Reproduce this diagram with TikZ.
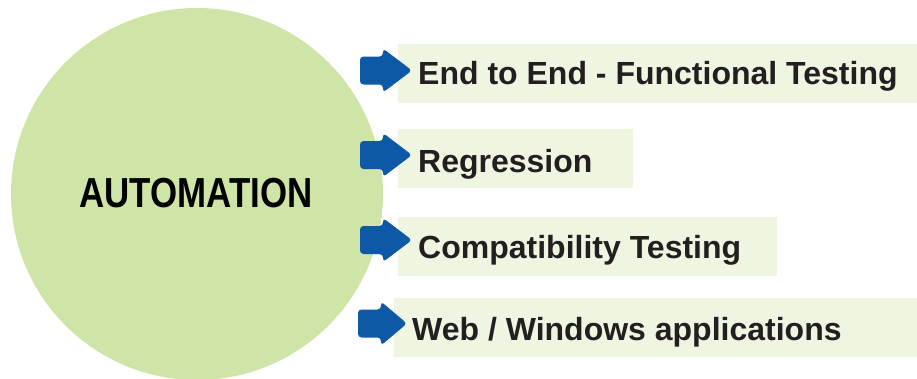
\documentclass[tikz,border=0pt]{standalone}
\usepackage{fontspec}
\setmainfont{Liberation Sans}
\definecolor{circlegreen}{RGB}{207,228,167}
\definecolor{boxgreen}{RGB}{238,245,225}
\definecolor{arrowblue}{RGB}{14,89,166}
\definecolor{textdark}{RGB}{35,31,32}
\begin{document}
\begin{tikzpicture}[x=1pt,y=1pt,
  itembox/.style={fill=boxgreen, draw=none, anchor=north west, inner sep=0pt},
  itemtext/.style={anchor=base west, inner sep=0pt, text=textdark, font=\fontsize{32}{36}\selectfont\bfseries},
  arrowshape/.style={fill=arrowblue, rounded corners=3.5pt}]
\useasboundingbox (0,0) rectangle (917,-378);
% central circle
\node[circle, fill=circlegreen, minimum size=372pt, inner sep=0pt] (hub) at (197,-194) {};
\node[inner sep=0pt, font=\fontsize{42}{48}\selectfont\bfseries] (hubtext) at (196,-193) {\scalebox{0.83}[1]{AUTOMATION}};
% boxes
\node[itembox, minimum width=519pt, minimum height=59pt] (b1) at (398,-44) {};
\node[itembox, minimum width=235pt, minimum height=59pt] (b2) at (398,-129) {};
\node[itembox, minimum width=379pt, minimum height=59pt] (b3) at (398,-217) {};
\node[itembox, minimum width=523pt, minimum height=59pt] (b4) at (394,-298) {};
% texts
\node[itemtext] (t1) at (418,-84) {End to End - Functional Testing};
\node[itemtext] (t2) at (418,-172) {Regression};
\node[itemtext] (t3) at (418,-258) {Compatibility Testing};
\node[itemtext] (t4) at (412,-340) {Web / Windows applications};
% arrows
\foreach \L/\T/\c [count=\i] in {360/412/-70.5, 360/412/-155, 360/412/-240, 358/407/-323.5}{
  \fill[arrowshape] (\L,\c+14) -- (\L+23,\c+14) -- (\L+23,\c+22) -- (\T,\c) -- (\L+23,\c-22) -- (\L+23,\c-14) -- (\L,\c-14) -- cycle;
}
\end{tikzpicture}
\end{document}
